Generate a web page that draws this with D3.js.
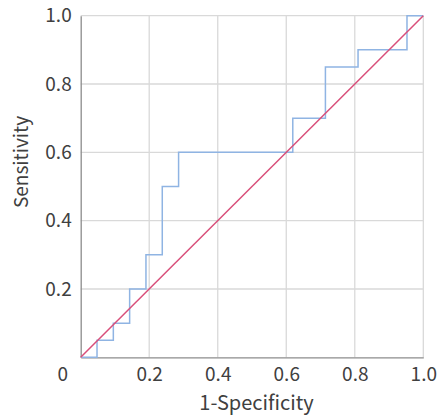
<!DOCTYPE html>
<html><head><meta charset="utf-8">
<script src="https://cdn.jsdelivr.net/npm/d3@7"></script>
<style>
html,body{margin:0;padding:0;background:#fff;}
text{font-family:"Noto Sans CJK JP","Noto Sans",sans-serif;fill:#404040;}
</style></head>
<body>
<svg id="chart" width="441" height="417"></svg>
<script>
const specificity1 = [0, 1/21, 1/21, 2/21, 2/21, 3/21, 3/21, 4/21, 4/21, 5/21, 5/21, 6/21, 6/21, 13/21, 13/21, 15/21, 15/21, 17/21, 17/21, 20/21, 20/21, 1];
const sensitivity  = [0, 0, 0.05, 0.05, 0.10, 0.10, 0.20, 0.20, 0.30, 0.30, 0.50, 0.50, 0.60, 0.60, 0.70, 0.70, 0.85, 0.85, 0.90, 0.90, 1.0, 1.0];
const refX = [0, 1];
const refY = [0, 1];
const xTicks = [0.2, 0.4, 0.6, 0.8, 1.0];
const yTicks = [0.2, 0.4, 0.6, 0.8, 1.0];

const svg = d3.select("#chart");
const L = 80.7, R = 423.3, T = 15.7, B = 357.3;
const x = d3.scaleLinear().domain([0, 1]).range([L, R]);
const y = d3.scaleLinear().domain([0, 1]).range([B, T]);

// grid
svg.append("g").selectAll("line").data(xTicks).join("line")
  .attr("x1", d => x(d)).attr("x2", d => x(d)).attr("y1", T).attr("y2", B)
  .attr("stroke", "#d9d9d9").attr("stroke-width", 1.3);
svg.append("g").selectAll("line").data(yTicks).join("line")
  .attr("y1", d => y(d)).attr("y2", d => y(d)).attr("x1", L).attr("x2", R)
  .attr("stroke", "#d9d9d9").attr("stroke-width", 1.3);

// axes
const xAxis = svg.append("g").attr("transform", `translate(0,${B})`)
  .call(d3.axisBottom(x).tickValues(xTicks).tickSize(0).tickPadding(10).tickFormat(d3.format(".1f")));
xAxis.select(".domain").attr("stroke", "#8c8c8c").attr("stroke-width", 1.3);
xAxis.selectAll("text").style("font-size", "19px").attr("fill", "#404040");
const yAxis = svg.append("g").attr("transform", `translate(${L},0)`)
  .call(d3.axisLeft(y).tickValues(yTicks).tickSize(0).tickPadding(9).tickFormat(d3.format(".1f")));
yAxis.select(".domain").attr("stroke", "#8c8c8c").attr("stroke-width", 1.3);
yAxis.selectAll("text").style("font-size", "19px").attr("fill", "#404040");

// origin label
svg.append("text").attr("x", x(0) - 18).attr("y", B + 10).attr("dy", "0.71em")
  .attr("text-anchor", "middle").style("font-size", "19px").text("0");

// lines
const pts = specificity1.map((d, i) => [d, sensitivity[i]]);
svg.append("path").datum(pts)
  .attr("d", d3.line().x(d => x(d[0])).y(d => y(d[1])))
  .attr("fill", "none").attr("stroke", "#8fb4e3").attr("stroke-width", 1.5);
svg.append("path").datum(refX.map((d, i) => [d, refY[i]]))
  .attr("d", d3.line().x(d => x(d[0])).y(d => y(d[1])))
  .attr("fill", "none").attr("stroke", "#d94f7a").attr("stroke-width", 1.5);

// titles
svg.append("text").attr("x", 256.5).attr("y", 410).attr("text-anchor", "middle")
  .style("font-size", "20px").text("1-Specificity");
svg.append("text").attr("transform", "translate(28,162) rotate(-90)").attr("text-anchor", "middle")
  .style("font-size", "19px").text("Sensitivity");
</script>
</body></html>
